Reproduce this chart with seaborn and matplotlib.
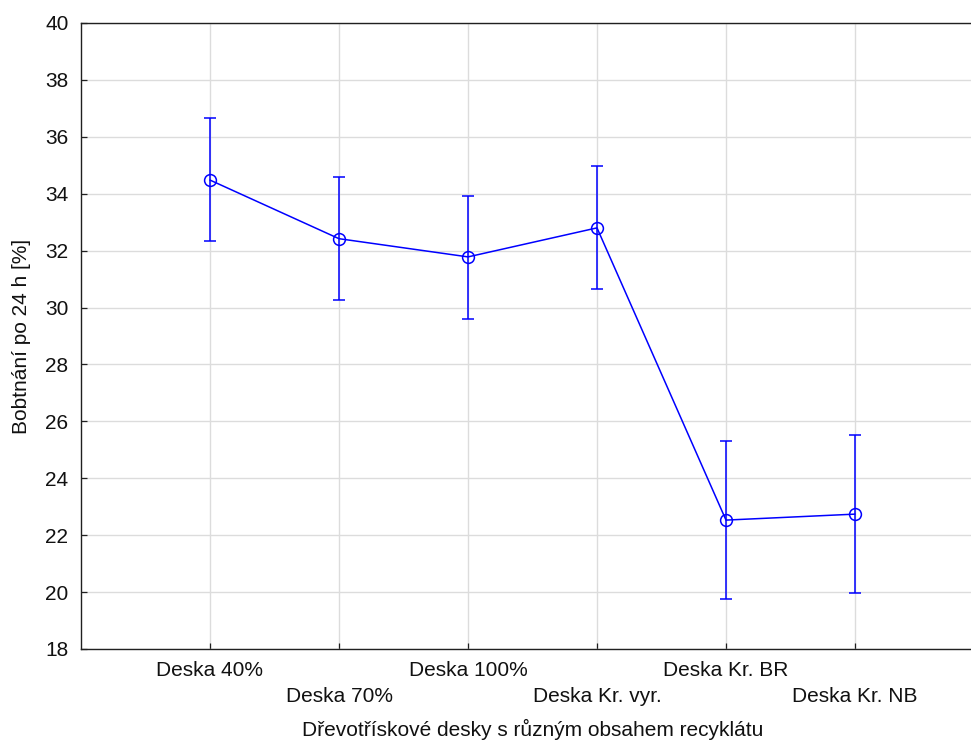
import matplotlib
matplotlib.use("Agg")
import matplotlib.pyplot as plt
import seaborn as sns
import pandas as pd
import numpy as np

categories = ["Deska 40%", "Deska 70%", "Deska 100%", "Deska Kr. vyr.", "Deska Kr. BR", "Deska Kr. NB"]
means = [34.48, 32.42, 31.78, 32.80, 22.53, 22.74]
err_low = [32.35, 30.26, 29.61, 30.66, 19.75, 19.96]
err_high = [36.67, 34.59, 33.93, 34.98, 25.31, 25.53]
yticks = [18, 20, 22, 24, 26, 28, 30, 32, 34, 36, 38, 40]

sns.set_theme(style="white")
plt.rcParams['font.family'] = ['Liberation Sans', 'DejaVu Sans']
plt.rcParams['xtick.direction'] = 'in'
plt.rcParams['ytick.direction'] = 'in'

fig = plt.figure(figsize=(9.71, 7.42), dpi=100)
ax = fig.add_axes([81/971, 1 - 649/742, (984 - 81)/971, (649 - 23)/742])

pos = np.arange(len(categories))
df = pd.DataFrame({"pos": pos, "mean": means})
blue = "#0000ff"

ax.grid(True, color="#dcdcdc", linewidth=1.0)
ax.set_axisbelow(True)

lo = np.array(means) - np.array(err_low)
hi = np.array(err_high) - np.array(means)
ax.errorbar(pos, means, yerr=[lo, hi], fmt="none", ecolor=blue, elinewidth=1.1,
            capsize=4.4, capthick=1.1, zorder=3)
sns.lineplot(data=df, x="pos", y="mean", color=blue, linewidth=1.1, marker="o",
             markersize=8.5, markerfacecolor="none", markeredgecolor=blue,
             markeredgewidth=1.1, ax=ax, zorder=4)

ax.set_xlim(-1, 6)
ax.set_ylim(18, 40)
ax.set_yticks(yticks)
ax.set_yticklabels([str(t) for t in yticks])
ax.set_xticks(pos)
labels = [c if i % 2 == 0 else "\n" + c for i, c in enumerate(categories)]
ax.set_xticklabels(labels, linespacing=1.45)

for s in ax.spines.values():
    s.set_color("#202020")
    s.set_linewidth(1.0)

ax.tick_params(axis="both", direction="in", length=4, width=0.9, colors="#202020",
               labelcolor="#111111", labelsize=15, left=True, bottom=True)
ax.tick_params(axis="y", pad=9)
ax.tick_params(axis="x", pad=9)

ax.set_xlabel("Dřevotřískové desky s různým obsahem recyklátu", fontsize=15, color="#111111", labelpad=9)
ax.set_ylabel("Bobtnání po 24 h [%]", fontsize=15, color="#111111", labelpad=10)

fig.savefig("out.png", dpi=100)
